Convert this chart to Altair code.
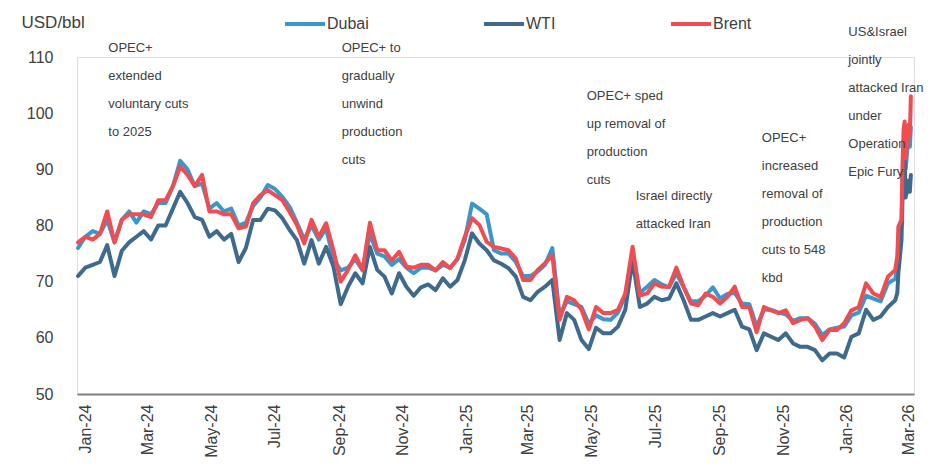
import altair as alt
import pandas as pd

# ---------------- data ----------------
weekly_start = "2024-01-02"
n_weeks = 113
spike_dates = ["2026-02-26", "2026-02-27", "2026-03-02", "2026-03-03", "2026-03-04",
               "2026-03-05", "2026-03-06", "2026-03-09", "2026-03-10", "2026-03-11"]

brent = [77, 78, 77.5, 78.5, 82.5, 77, 81, 82, 82, 82,
         81.5, 84.5, 84.5, 87, 90.5, 89, 87, 89, 82.5, 82.5,
         82, 82, 79.5, 79.8, 84, 85.4, 86.3, 85.4, 84.5, 82.4,
         80.1, 76.8, 81, 78, 80.4, 75.6, 70, 72.1, 74.7, 72.1,
         80.5, 75.6, 75.6, 73.8, 75.3, 72.7, 72.5, 73, 73, 72,
         73.5, 72.4, 74.1, 78, 81.3, 80.1, 77.1, 76.2, 75.9, 75.6,
         74.1, 70.3, 70.3, 72.1, 73.3, 74.7, 63.2, 67.3, 66.7, 65,
         61.5, 65.5, 64.4, 64.4, 65, 67.9, 76.2, 67.5, 67.9, 69.7,
         69.1, 69.1, 72.5, 69.1, 66.1, 65.8, 67.9, 67.3, 66.1, 67.3,
         69.1, 65.5, 65.5, 61, 65.5, 64.9, 64.4, 64.9, 62.6, 63.2,
         63.5, 62, 59.6, 61.4, 61.4, 62.6, 64.9, 65.5, 69.7, 67.9,
         67.3, 70.9, 72.1,
         74.5, 79.8, 81, 91, 97, 98.5, 92, 98, 96, 103]

dubai = [76, 78, 79, 78.5, 81, 77, 81, 82.5, 80.5, 82.5,
         82, 84, 84, 87, 91.5, 90, 87, 87.5, 83, 84,
         82.5, 83, 80, 80.5, 83.5, 85, 87.2, 86.5, 85.1, 83.3,
         80.5, 77.5, 80, 77.5, 79.5, 74, 72, 72.5, 74, 72,
         78.5, 75, 74.5, 73, 74, 72.5, 71.5, 72.5, 72.5, 72,
         73, 72.5, 74, 77.4, 83.9, 83, 82, 75.6, 75, 75,
         73.5, 71, 71, 71.8, 73, 76, 64, 66.5, 66, 65.5,
         62.5, 64, 63.3, 63.2, 64.5, 67.5, 75, 68, 69.1, 70.3,
         69.5, 69, 71.5, 69, 66.5, 66.5, 67.5, 69, 67, 67.8,
         68, 66.1, 66, 62, 65, 65, 64.5, 64.2, 63, 63.5,
         63.5, 62.5, 60.5, 61.5, 61.8, 62, 64, 64.5, 67.5, 67,
         66.5, 69.7, 70.5,
         72.5, 77, 80, 88, 94, 96, 90, 96.5, 94, 97.5]

wti = [71, 72.5, 73, 73.5, 76.5, 71, 75.5, 77, 78, 79,
       77.5, 80, 80, 83, 86, 84, 81.5, 81, 78, 79,
       77.5, 78.5, 73.5, 76, 81, 81, 83, 82.7, 81.3, 79.2,
       77.4, 73.2, 77.4, 73.2, 76.2, 72.7, 66, 69.1, 71.5, 69.7,
       76.2, 72.1, 70.9, 67.9, 71.5, 69.1, 67.5, 69, 69.5, 68.5,
       70.6, 69.1, 70.3, 73.8, 78.6, 76.8, 75.6, 73.8, 73.2, 72.4,
       70.9, 67.3, 66.7, 68.2, 69.1, 70.3, 59.6, 64.4, 63.2, 59.6,
       58, 61.8, 60.8, 60.8, 62, 65, 73.8, 65.5, 66.1, 67.3,
       66.7, 67, 69.7, 66.7, 63.2, 63.2, 63.8, 64.4, 63.8, 64.4,
       65, 62, 61.5, 57.8, 60.8, 60.2, 59.6, 60.8, 59, 58.4,
       58.4, 57.8, 56, 57.2, 57.2, 56.5, 60.2, 60.8, 65, 63.2,
       63.8, 65.5, 66.7,
       68, 71.5, 77.4, 85, 88, 92, 85, 88, 86, 89]

series_names = ["Dubai", "WTI", "Brent"]
series_colors = ["#3B96CC", "#3E6B8D", "#EF4D52"]

ann_dates = ["2024-01-31", "2024-09-11", "2025-05-04", "2025-06-20", "2025-10-19", "2026-01-10"]
ann_prices = [111.6, 111.6, 103.0, 85.2, 95.6, 114.4]
ann_texts = [
    "OPEC+\nextended\nvoluntary cuts\nto 2025",
    "OPEC+ to\ngradually\nunwind\nproduction\ncuts",
    "OPEC+ sped\nup removal of\nproduction\ncuts",
    "Israel directly\nattacked Iran",
    "OPEC+\nincreased\nremoval of\nproduction\ncuts to 548\nkbd",
    "US&Israel\njointly\nattacked Iran\nunder\nOperation\nEpic Fury",
]

y_ticks = [50, 60, 70, 80, 90, 100, 110]

# ---------------- tables ----------------
dates = list(pd.date_range(weekly_start, periods=n_weeks, freq="7D").strftime("%Y-%m-%d")) + spike_dates
rows = []
for name, vals in zip(series_names, [dubai, wti, brent]):
    for d, v in zip(dates, vals):
        rows.append({"date": d, "series": name, "price": v})
df = pd.DataFrame(rows)
ann = pd.DataFrame({"date": ann_dates, "price": ann_prices, "label": ann_texts})

FONT = "Liberation Sans"
TXT = "#404040"

x_scale = alt.Scale(type="utc", domain=[alt.DateTime(year=2024, month=1, date=1, utc=True),
                                        alt.DateTime(year=2026, month=3, date=14, utc=True)])
y_scale = alt.Scale(domain=[50, 110], nice=False, zero=False)
color_scale = alt.Scale(domain=series_names, range=series_colors)

x_enc = alt.X("date:T", scale=x_scale, axis=alt.Axis(
    title=None, format="%b-%y", labelAngle=270, labelFontSize=16, labelPadding=10,
    labelOffset=8, labelColor=TXT, labelFont=FONT, labelFlush=False, labelOverlap=False,
    tickCount={"interval": "month", "step": 2}, ticks=False, grid=False,
    domainColor="#808080", domainWidth=2))
y_enc = alt.Y("price:Q", scale=y_scale, axis=alt.Axis(
    values=y_ticks, title="USD/bbl", titleAngle=0, titleX=-56, titleY=-35,
    titleAlign="left", titleBaseline="middle", titleFontSize=17, titleFontWeight="normal",
    titleColor=TXT, titleFont=FONT, labelFontSize=16, labelColor=TXT, labelFont=FONT,
    labelPadding=24, domain=False, ticks=False, grid=False))
color_enc = alt.Color("series:N", scale=color_scale, legend=alt.Legend(
    title=None, orient="none", direction="horizontal", legendX=206, legendY=-55,
    symbolType="stroke", symbolSize=1600, symbolStrokeWidth=4, labelFontSize=16,
    labelColor=TXT, labelFont=FONT, labelOffset=0, columnPadding=107))

layers = []
for name in series_names:
    layers.append(
        alt.Chart(df).transform_filter(alt.datum.series == name)
        .mark_line(strokeWidth=4, strokeJoin="round", strokeCap="round")
        .encode(x=x_enc, y=y_enc, color=color_enc)
    )

text_layer = alt.Chart(ann).mark_text(
    align="left", baseline="middle", lineBreak="\n", lineHeight=28,
    fontSize=13, color=TXT, font=FONT
).encode(x=alt.X("date:T", scale=x_scale), y=alt.Y("price:Q", scale=y_scale), text="label:N")

chart = alt.layer(*layers, text_layer).properties(
    width=837, height=337, autosize="none",
    padding={"left": 69, "top": 49, "right": 11, "bottom": 65},
).configure_view(stroke=None).configure(font=FONT)

chart.save("out.html", embed_options={"renderer": "svg", "actions": False})
